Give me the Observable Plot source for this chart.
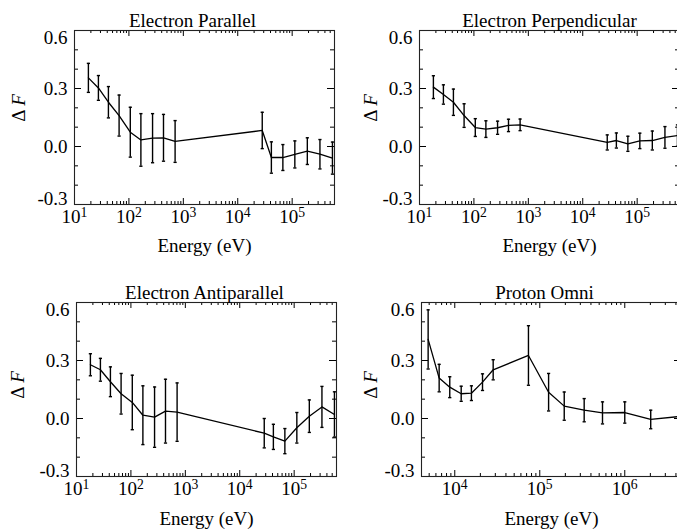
<!DOCTYPE html>
<html><head><meta charset="utf-8">
<script src="https://cdn.jsdelivr.net/npm/d3@7"></script>
<script src="https://cdn.jsdelivr.net/npm/@observablehq/plot@0.6"></script>
</head><body style="margin:0;background:#fff">
<div id="wrap" style="display:grid;grid-template-columns:338px 339px;grid-template-rows:272px 257px;width:677px;height:529px;overflow:hidden;background:#fff"></div>
<script>
// ---- data ----
const electronEnergy = [18, 27.5, 42, 66, 106, 166, 272, 432, 706, 28200, 41500, 67500, 112000, 190000, 324000, 550000];
const parallelDF  = [0.355, 0.303, 0.229, 0.160, 0.074, 0.034, 0.043, 0.045, 0.026, 0.083, -0.057, -0.057, -0.041, -0.024, -0.040, -0.060];
const parallelErr = [0.075, 0.064, 0.081, 0.106, 0.129, 0.136, 0.127, 0.121, 0.108, 0.094, 0.081, 0.067, 0.070, 0.069, 0.076, 0.083];
const perpDF  = [0.307, 0.269, 0.229, 0.160, 0.098, 0.090, 0.097, 0.109, 0.112, 0.021, 0.031, 0.014, 0.029, 0.031, 0.047, 0.057];
const perpErr = [0.059, 0.050, 0.068, 0.061, 0.046, 0.043, 0.034, 0.032, 0.030, 0.039, 0.039, 0.039, 0.040, 0.049, 0.056, 0.055];
const antiDF  = [0.278, 0.252, 0.190, 0.128, 0.083, 0.017, 0.007, 0.038, 0.033, -0.076, -0.095, -0.117, -0.048, 0.012, 0.060, 0.021];
const antiErr = [0.057, 0.059, 0.077, 0.105, 0.141, 0.152, 0.156, 0.165, 0.151, 0.076, 0.065, 0.065, 0.079, 0.084, 0.106, 0.117];
const protonEnergy = [4860, 6550, 8730, 11900, 15700, 21200, 28300, 73600, 127000, 194000, 333000, 547000, 1000000, 2020000, 4300000];
const protonDF  = [0.409, 0.209, 0.162, 0.128, 0.131, 0.188, 0.252, 0.326, 0.136, 0.064, 0.043, 0.029, 0.031, -0.005, 0.010];
const protonErr = [0.153, 0.071, 0.054, 0.039, 0.038, 0.043, 0.052, 0.154, 0.097, 0.073, 0.060, 0.057, 0.055, 0.048, 0.050];

const panelTitles = ["Electron Parallel", "Electron Perpendicular", "Electron Antiparallel", "Proton Omni"];
const xAxisLabel = "Energy (eV)";
const yAxisLabel = ["\u0394 ", "F"];
const yTickValues = [-0.3, 0.0, 0.3, 0.6];
const yMinorValues = [-0.2, -0.1, 0.1, 0.2, 0.4, 0.5];
const electronDecades = [10, 100, 1000, 10000, 100000];
const protonDecades = [10000, 100000, 1000000];
const electronDomain = [10, 6e5];
const protonDomain = [4060, 4.65e6];

// ---- drawing ----
const W = 260, H = 174, MT = 30, MB = 60, MR = 8;

function minorTicks(domain) {
  const out = [];
  const lo = Math.floor(Math.log10(domain[0])), hi = Math.ceil(Math.log10(domain[1]));
  for (let p = lo; p <= hi; p++) for (let m = 2; m <= 9; m++) {
    const v = m * Math.pow(10, p);
    if (v >= domain[0] && v <= domain[1]) out.push(v);
  }
  return out;
}

const capSymbol = {draw(ctx, size) { const r = Math.sqrt(size / Math.PI); ctx.moveTo(-r, 0); ctx.lineTo(r, 0); }};

function makePanel(cfg) {
  const data = cfg.energy.map((e, i) => ({e, v: cfg.values[i], lo: cfg.values[i] - cfg.errors[i], hi: cfg.values[i] + cfg.errors[i]}));
  const minor = minorTicks(cfg.domain);
  const yTop = yTickValues.filter(v => v === 0.6);
  const yBot = yTickValues.filter(v => v === -0.3);
  const yMid = yTickValues.filter(v => v !== 0.6 && v !== -0.3);
  const yFmt = d => d.toFixed(1);
  const width = cfg.ml + W + MR;
  const svg = Plot.plot({
    width, height: MT + H + MB,
    marginLeft: cfg.ml, marginRight: MR, marginTop: MT, marginBottom: MB,
    style: {fontFamily: "Liberation Serif", fontSize: "19px", maxWidth: "none", background: "white"},
    x: {type: "log", domain: cfg.domain},
    y: {domain: [-0.3, 0.6]},
    marks: [
      Plot.tickX(cfg.decades, {x: d => d, insetTop: H - 6, stroke: "black"}),
      Plot.tickX(cfg.decades, {x: d => d, insetBottom: H - 6, stroke: "black"}),
      Plot.tickX(minor, {x: d => d, insetTop: H - 3, stroke: "black"}),
      Plot.tickX(minor, {x: d => d, insetBottom: H - 3, stroke: "black"}),
      Plot.tickY(yTickValues, {y: d => d, insetRight: W - 7, stroke: "black"}),
      Plot.tickY(yTickValues, {y: d => d, insetLeft: W - 7, stroke: "black"}),
      Plot.tickY(yMinorValues, {y: d => d, insetRight: W - 4, stroke: "black"}),
      Plot.tickY(yMinorValues, {y: d => d, insetLeft: W - 4, stroke: "black"}),
      Plot.frame({stroke: "#222", strokeWidth: 1.1}),
      Plot.axisX({anchor: "bottom", ticks: cfg.decades, tickSize: 0, tickPadding: 5, label: null,
        tickFormat: d => "10^" + Math.round(Math.log10(d))}),
      Plot.axisY({anchor: "left", ticks: yMid, tickSize: 0, tickPadding: 7, label: null, tickFormat: yFmt}),
      Plot.axisY({anchor: "left", ticks: yTop, tickSize: 0, tickPadding: 7, label: null, tickFormat: yFmt, dy: 7}),
      Plot.axisY({anchor: "left", ticks: yBot, tickSize: 0, tickPadding: 7, label: null, tickFormat: yFmt, dy: -6}),
      Plot.ruleX(data, {x: "e", y1: "lo", y2: "hi", stroke: "black", strokeWidth: 1.4}),
      Plot.dot(data, {x: "e", y: "lo", symbol: capSymbol, r: 1.6, stroke: "black", strokeWidth: 1.4}),
      Plot.dot(data, {x: "e", y: "hi", symbol: capSymbol, r: 1.6, stroke: "black", strokeWidth: 1.4}),
      Plot.line(data, {x: "e", y: "v", stroke: "black", strokeWidth: 1.3}),
      Plot.text([cfg.title], {text: d => d, frameAnchor: "top", lineAnchor: "bottom", dy: -4, dx: cfg.tdx}),
      Plot.text([xAxisLabel], {text: d => d, frameAnchor: "bottom", lineAnchor: "middle", dy: cfg.xlabDy})
    ]
  });
  const s = d3.select(svg);
  s.selectAll('g[aria-label="x-axis tick label"] text').each(function () {
    const parts = this.textContent.split("^");
    const t = d3.select(this);
    t.text(null);
    t.append("tspan").text(parts[0]);
    t.append("tspan").attr("dy", "-0.42em").attr("font-size", "0.72em").text(parts[1]);
  });
  const lab = s.append("text")
    .attr("transform", `translate(${cfg.ml + cfg.ylx},${MT + cfg.yly}) rotate(-90)`)
    .attr("text-anchor", "middle").attr("dy", "0.35em").attr("fill", "black");
  lab.append("tspan").text(yAxisLabel[0]);
  lab.append("tspan").attr("font-style", "italic").text(yAxisLabel[1]);
  const div = document.createElement("div");
  div.style.overflow = "hidden";
  div.style.paddingTop = cfg.padTop + "px";
  div.appendChild(svg);
  document.getElementById("wrap").appendChild(div);
}

makePanel({title: panelTitles[0], energy: electronEnergy, values: parallelDF, errors: parallelErr,
  domain: electronDomain, decades: electronDecades, padTop: 0, ml: 74, ylx: -56, yly: 78, xlabDy: 41, tdx: -12});
makePanel({title: panelTitles[1], energy: electronEnergy, values: perpDF, errors: perpErr,
  domain: electronDomain, decades: electronDecades, padTop: 0, ml: 81, ylx: -49, yly: 78, xlabDy: 41, tdx: 0});
makePanel({title: panelTitles[2], energy: electronEnergy, values: antiDF, errors: antiErr,
  domain: electronDomain, decades: electronDecades, padTop: 0, ml: 76, ylx: -59, yly: 83, xlabDy: 42, tdx: -2});
makePanel({title: panelTitles[3], energy: protonEnergy, values: protonDF, errors: protonErr,
  domain: protonDomain, decades: protonDecades, padTop: 0, ml: 83, ylx: -51, yly: 83, xlabDy: 42, tdx: -7});
</script>
</body></html>
